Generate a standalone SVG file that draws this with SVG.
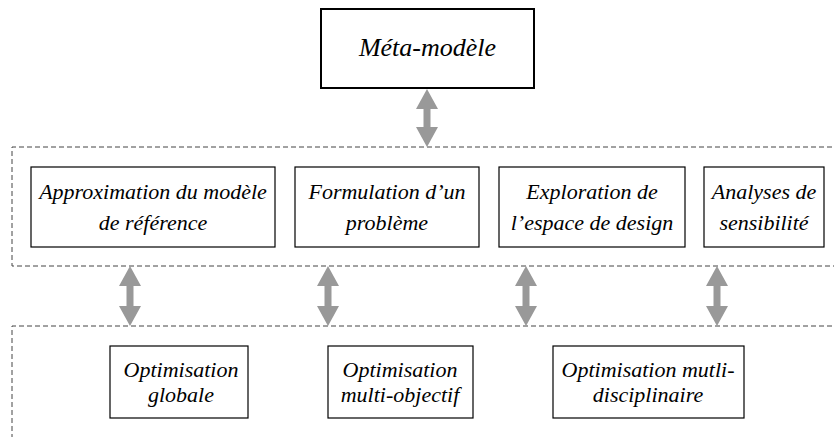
<svg xmlns="http://www.w3.org/2000/svg" width="834" height="437" viewBox="0 0 834 437">
<style>
.box{fill:#fff;stroke:#000;stroke-width:1.2}
.main{fill:#fff;stroke:#000;stroke-width:2}
.t{font-family:'Liberation Serif',Tinos,'Times New Roman','DejaVu Serif',serif;font-style:italic;font-size:22px;fill:#000;text-anchor:middle}
.tm{font-family:'Liberation Serif',Tinos,'Times New Roman','DejaVu Serif',serif;font-style:italic;font-size:26px;fill:#000;text-anchor:middle}
.dash{fill:none;stroke:#444;stroke-width:1;stroke-dasharray:5,3}
.arr{fill:#999;stroke:none}
</style>
<rect width="834" height="437" fill="#fff"/>
<g id="groups">
<path class="dash" d="M840,147 H12 V266 H840"/>
<path class="dash" d="M840,326 H12 V445"/>
</g>
<g id="connectors">
<path class="arr" d="M427,89 L438,109 L430.5,109 L430.5,127 L438,127 L427,147 L416,127 L423.5,127 L423.5,109 L416,109 Z"/>
<path class="arr" d="M130,266 L141,286 L133.5,286 L133.5,306 L141,306 L130,326 L119,306 L126.5,306 L126.5,286 L119,286 Z"/>
<path class="arr" d="M328,266 L339,286 L331.5,286 L331.5,306 L339,306 L328,326 L317,306 L324.5,306 L324.5,286 L317,286 Z"/>
<path class="arr" d="M526,266 L537,286 L529.5,286 L529.5,306 L537,306 L526,326 L515,306 L522.5,306 L522.5,286 L515,286 Z"/>
<path class="arr" d="M717,266 L728,286 L720.5,286 L720.5,306 L728,306 L717,326 L706,306 L713.5,306 L713.5,286 L706,286 Z"/>
</g>
<g id="meta">
<rect class="main" x="321" y="9" width="213" height="79"/>
<text class="tm" x="427.5" y="56" font-family="Liberation Serif, serif">Méta-modèle</text>
</g>
<g id="approx">
<rect class="box" x="31" y="167" width="244" height="80"/>
<text class="t" x="153" y="199">Approximation du modèle</text>
<text class="t" x="153" y="230">de référence</text>
</g>
<g id="formulation">
<rect class="box" x="295" y="167" width="184" height="80"/>
<text class="t" x="387" y="199">Formulation d’un</text>
<text class="t" x="387" y="230">problème</text>
</g>
<g id="exploration">
<rect class="box" x="499" y="167" width="186" height="80"/>
<text class="t" x="592" y="199">Exploration de</text>
<text class="t" x="592" y="230">l’espace de design</text>
</g>
<g id="analyses">
<rect class="box" x="704" y="167" width="120" height="80"/>
<text class="t" x="764" y="199">Analyses de</text>
<text class="t" x="764" y="230">sensibilité</text>
</g>
<g id="opt-globale">
<rect class="box" x="110" y="346" width="138" height="72"/>
<text class="t" x="181" y="377">Optimisation</text>
<text class="t" x="181" y="402">globale</text>
</g>
<g id="opt-multiobj">
<rect class="box" x="328" y="346" width="145" height="72"/>
<text class="t" x="400" y="377">Optimisation</text>
<text class="t" x="400" y="402">multi-objectif</text>
</g>
<g id="opt-multidisc">
<rect class="box" x="553" y="346" width="191" height="72"/>
<text class="t" x="648" y="377">Optimisation mutli-</text>
<text class="t" x="648" y="402">disciplinaire</text>
</g>
</svg>
